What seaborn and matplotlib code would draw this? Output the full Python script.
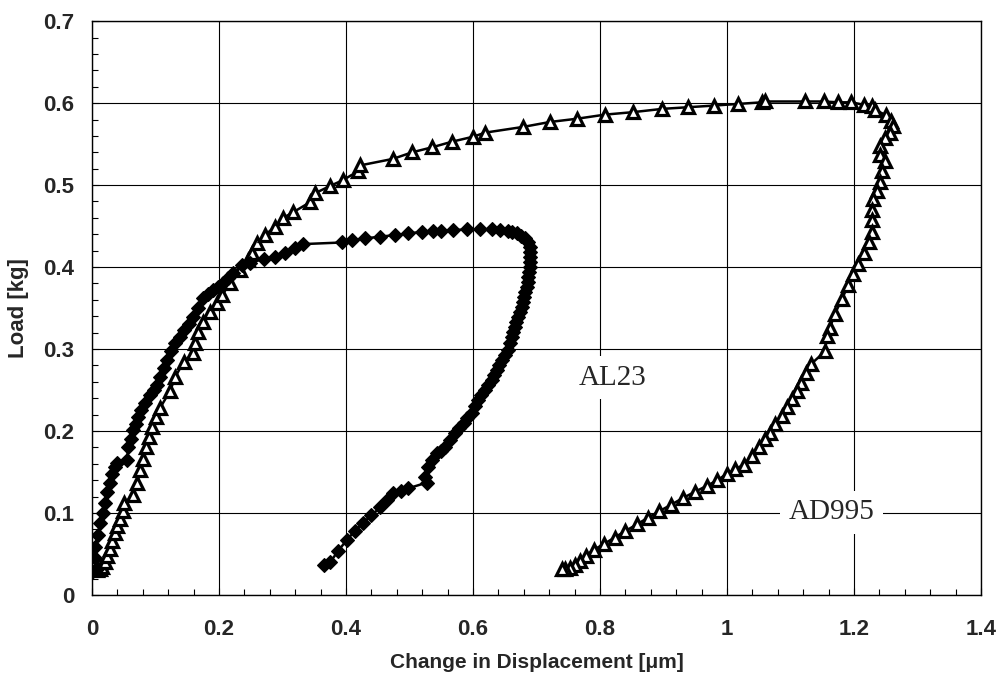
import numpy as np
import pandas as pd
import matplotlib
matplotlib.use('Agg')
import matplotlib.pyplot as plt
from matplotlib.ticker import MultipleLocator, FuncFormatter
import seaborn as sns

# ==========================
# Data
# ==========================

# AL23 (filled diamonds): loading, plateau, unloading
al23_x = [0.000, 0.004, 0.008, 0.005, 0.005, 0.009, 0.013, 0.017, 0.020, 0.024,
          0.028, 0.032, 0.036, 0.039, 0.055, 0.057, 0.061, 0.065, 0.069, 0.072,
          0.077, 0.083, 0.091, 0.097, 0.102, 0.107, 0.113, 0.118, 0.125, 0.131,
          0.138, 0.144, 0.152, 0.159, 0.167, 0.175, 0.183, 0.190, 0.198, 0.206,
          0.214, 0.222, 0.236, 0.249, 0.270, 0.288, 0.304, 0.320, 0.332, 0.394,
          0.410, 0.430, 0.453, 0.477, 0.498, 0.520, 0.537, 0.550, 0.569, 0.590,
          0.611, 0.630, 0.643, 0.655, 0.662, 0.669, 0.676, 0.682, 0.686, 0.690,
          0.690, 0.690, 0.690, 0.690, 0.688, 0.687, 0.686, 0.685, 0.682, 0.680,
          0.678, 0.677, 0.674, 0.671, 0.668, 0.666, 0.663, 0.661, 0.658, 0.655,
          0.650, 0.645, 0.641, 0.637, 0.633, 0.630, 0.624, 0.619, 0.613, 0.608,
          0.603, 0.598, 0.591, 0.585, 0.578, 0.571, 0.563, 0.556, 0.549, 0.543,
          0.536, 0.529, 0.524, 0.527, 0.498, 0.486, 0.474, 0.464, 0.454, 0.440,
          0.427, 0.414, 0.401, 0.388, 0.375, 0.365]
al23_y = [0.028, 0.030, 0.032, 0.045, 0.058, 0.073, 0.088, 0.100, 0.112, 0.125,
          0.137, 0.147, 0.156, 0.161, 0.165, 0.180, 0.190, 0.201, 0.209, 0.217,
          0.225, 0.234, 0.244, 0.250, 0.256, 0.266, 0.277, 0.287, 0.297, 0.307,
          0.315, 0.323, 0.331, 0.339, 0.350, 0.362, 0.367, 0.372, 0.376, 0.380,
          0.387, 0.393, 0.402, 0.405, 0.410, 0.412, 0.417, 0.423, 0.428, 0.430,
          0.433, 0.435, 0.437, 0.439, 0.441, 0.443, 0.444, 0.444, 0.445, 0.446,
          0.446, 0.446, 0.445, 0.444, 0.443, 0.441, 0.438, 0.435, 0.430, 0.425,
          0.418, 0.412, 0.406, 0.400, 0.394, 0.388, 0.382, 0.376, 0.370, 0.363,
          0.357, 0.351, 0.345, 0.339, 0.333, 0.327, 0.321, 0.315, 0.307, 0.299,
          0.293, 0.287, 0.281, 0.274, 0.268, 0.262, 0.256, 0.250, 0.244, 0.238,
          0.230, 0.222, 0.216, 0.210, 0.204, 0.198, 0.189, 0.180, 0.176, 0.173,
          0.164, 0.156, 0.144, 0.137, 0.130, 0.127, 0.124, 0.116, 0.107, 0.097,
          0.088, 0.078, 0.067, 0.054, 0.040, 0.037]

# AD995 (open triangles)
ad995_x = [0.008, 0.012, 0.016, 0.020, 0.024, 0.028, 0.032, 0.036, 0.040, 0.044,
           0.048, 0.051, 0.065, 0.071, 0.076, 0.080, 0.085, 0.090, 0.095, 0.101,
           0.107, 0.123, 0.131, 0.144, 0.159, 0.162, 0.167, 0.175, 0.186, 0.197,
           0.205, 0.217, 0.233, 0.246, 0.252, 0.260, 0.272, 0.288, 0.301, 0.317,
           0.343, 0.351, 0.375, 0.395, 0.419, 0.422, 0.474, 0.504, 0.535, 0.567,
           0.600, 0.619, 0.679, 0.721, 0.764, 0.808, 0.852, 0.898, 0.939, 0.979,
           1.017, 1.055, 1.060, 1.123, 1.152, 1.175, 1.196, 1.215, 1.228, 1.233,
           1.251, 1.259, 1.262, 1.257, 1.249, 1.241, 1.241, 1.249, 1.244, 1.241,
           1.236, 1.230, 1.228, 1.228, 1.228, 1.223, 1.215, 1.207, 1.199, 1.191,
           1.181, 1.170, 1.162, 1.158, 1.154, 1.133, 1.125, 1.117, 1.110, 1.102,
           1.094, 1.086, 1.076, 1.068, 1.060, 1.050, 1.039, 1.026, 1.013, 1.000,
           0.985, 0.968, 0.950, 0.930, 0.912, 0.893, 0.875, 0.858, 0.840, 0.823,
           0.806, 0.790, 0.778, 0.768, 0.760, 0.752, 0.745, 0.740]
ad995_y = [0.030, 0.031, 0.034, 0.040, 0.048, 0.056, 0.066, 0.076, 0.084, 0.092,
           0.102, 0.112, 0.122, 0.137, 0.152, 0.166, 0.180, 0.193, 0.205, 0.217,
           0.228, 0.249, 0.266, 0.284, 0.295, 0.307, 0.321, 0.333, 0.345, 0.356,
           0.366, 0.380, 0.396, 0.409, 0.417, 0.429, 0.439, 0.449, 0.460, 0.467,
           0.479, 0.490, 0.499, 0.506, 0.517, 0.524, 0.532, 0.540, 0.546, 0.553,
           0.559, 0.564, 0.571, 0.577, 0.581, 0.586, 0.589, 0.593, 0.595, 0.597,
           0.599, 0.601, 0.602, 0.602, 0.602, 0.601, 0.601, 0.598, 0.596, 0.592,
           0.585, 0.578, 0.572, 0.563, 0.557, 0.548, 0.537, 0.530, 0.517, 0.504,
           0.493, 0.483, 0.470, 0.457, 0.443, 0.430, 0.417, 0.404, 0.391, 0.378,
           0.361, 0.343, 0.326, 0.316, 0.297, 0.282, 0.271, 0.259, 0.249, 0.239,
           0.229, 0.218, 0.208, 0.198, 0.190, 0.180, 0.169, 0.159, 0.153, 0.148,
           0.140, 0.133, 0.126, 0.118, 0.110, 0.102, 0.094, 0.086, 0.078, 0.070,
           0.062, 0.055, 0.048, 0.041, 0.036, 0.033, 0.031, 0.031]

x_ticks = [0, 0.2, 0.4, 0.6, 0.8, 1.0, 1.2, 1.4]
y_ticks = [0, 0.1, 0.2, 0.3, 0.4, 0.5, 0.6, 0.7]

al23 = pd.DataFrame({'x': al23_x, 'y': al23_y})
ad995 = pd.DataFrame({'x': ad995_x, 'y': ad995_y})

# ==========================
# Plot
# ==========================
sns.set_style('white')
plt.rcParams['font.family'] = ['Liberation Sans', 'DejaVu Sans']

fig = plt.figure(figsize=(10.01, 6.83), dpi=100)
ax = fig.add_axes([0.092, 0.129, 0.888, 0.840])

sns.lineplot(data=ad995, x='x', y='y', sort=False, estimator=None, ax=ax,
             color='black', linewidth=1.8, marker='^', markersize=9,
             markerfacecolor='white', markeredgecolor='black',
             markeredgewidth=2.3, zorder=3)
sns.lineplot(data=al23, x='x', y='y', sort=False, estimator=None, ax=ax,
             color='black', linewidth=1.8, marker='D', markersize=7,
             markerfacecolor='black', markeredgecolor='black',
             markeredgewidth=0.8, zorder=4)

ax.set_xlim(0, 1.4)
ax.set_ylim(0, 0.7)
ax.set_xticks(x_ticks)
ax.set_yticks(y_ticks)
ax.xaxis.set_minor_locator(MultipleLocator(0.04))
ax.yaxis.set_minor_locator(MultipleLocator(0.02))
fmt = FuncFormatter(lambda v, p: '%g' % round(v, 2))
ax.xaxis.set_major_formatter(fmt)
ax.yaxis.set_major_formatter(fmt)

ax.grid(True, which='major', color='black', linewidth=0.8)
for s in ax.spines.values():
    s.set_color('black')
    s.set_linewidth(1.0)
    s.set_visible(True)

ax.tick_params(which='both', direction='in', color='black', width=0.8,
               left=True, bottom=True)
ax.tick_params(which='major', length=5)
ax.tick_params(which='minor', length=4)
ax.tick_params(axis='x', which='major', pad=17, labelsize=16)
ax.tick_params(axis='y', which='major', pad=13, labelsize=16)
for lab in ax.get_xticklabels() + ax.get_yticklabels():
    lab.set_fontweight('bold')

ax.set_xlabel('Change in Displacement [\u03bcm]', fontsize=15,
              fontweight='bold', labelpad=10)
ax.set_ylabel('Load [kg]', fontsize=16, fontweight='bold', labelpad=10)

box = dict(facecolor='white', edgecolor='none', pad=6)
ax.text(0.82, 0.265, 'AL23', fontsize=21, family='Liberation Serif',
        ha='center', va='center', bbox=box, zorder=5)
ax.text(1.165, 0.101, 'AD995', fontsize=21, family='Liberation Serif',
        ha='center', va='center', bbox=box, zorder=5)

plt.savefig('out.png', dpi=100)
